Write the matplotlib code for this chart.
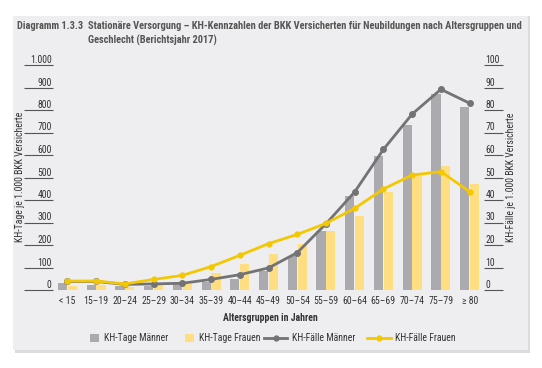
import numpy as np
import matplotlib
matplotlib.use('Agg')
import matplotlib.pyplot as plt
from matplotlib import font_manager
from matplotlib.patches import Patch, Rectangle
from matplotlib.lines import Line2D

# pick a narrow font if one is installed
names = {f.name for f in font_manager.fontManager.ttflist}
for cand in ['Roboto Condensed', 'Open Sans Condensed', 'Liberation Sans Narrow', 'Noto Sans Condensed']:
    if cand in names:
        plt.rcParams['font.family'] = [cand, 'DejaVu Sans']
        break
else:
    plt.rcParams['font.family'] = ['DejaVu Sans']
    plt.rcParams['font.stretch'] = 'condensed'

# data
age_groups = ['< 15', '15–19', '20–24', '25–29', '30–34', '35–39', '40–44', '45–49',
              '50–54', '55–59', '60–64', '65–69', '70–74', '75–79', '≥ 80']
tage_maenner = [30, 21, 18, 18, 30, 37, 50, 84, 152, 262, 418, 596, 732, 871, 812]
tage_frauen = [19, 21, 15, 21, 27, 74, 114, 160, 203, 262, 329, 436, 511, 551, 471]
faelle_maenner = [3.8, 3.8, 2.5, 2.7, 3.0, 4.7, 6.8, 9.8, 16.6, 29.4, 43.6, 62.5, 78.2, 89.2, 83.0]
faelle_frauen = [4.0, 4.0, 2.7, 4.7, 6.5, 10.4, 15.4, 20.6, 24.7, 29.6, 36.3, 44.9, 51.1, 52.6, 43.7]
left_ticks = [0, 100, 200, 300, 400, 500, 600, 700, 800, 900, 1000]
left_labels = ['0', '100', '200', '300', '400', '500', '600', '700', '800', '900', '1.000']
right_ticks = [0, 10, 20, 30, 40, 50, 60, 70, 80, 90, 100]

GRAY_BAR = '#ababaf'
YELLOW_BAR = '#fede80'
GRAY_LINE = '#737376'
YELLOW_LINE = '#f4c800'
PANEL = '#eeeef1'
TXT = '#333333'

W, H = 542, 368
fig = plt.figure(figsize=(W / 100, H / 100), dpi=100)
fig.patch.set_facecolor('white')

# panel with shadow
fig.patches.append(Rectangle((15 / W, 1 - 353 / H), 515 / W, 337 / H, transform=fig.transFigure,
                             facecolor='#dcdcdc', edgecolor='none', zorder=-10))
fig.patches.append(Rectangle((13 / W, 1 - 350 / H), 515 / W, 334 / H, transform=fig.transFigure,
                             facecolor=PANEL, edgecolor='none', zorder=-9))

# axes: x from 53 to 484 px, y from 65 to 290 px
ax = fig.add_axes([53 / W, 1 - 290 / H, (484 - 53) / W, (290 - 65) / H])
ax.set_facecolor('none')
ax2 = ax.twinx()

x = np.arange(len(age_groups))
bw = 0.32
ax.bar(x - bw / 2 - 0.01, tage_maenner, width=bw, color=GRAY_BAR, zorder=2)
ax.bar(x + bw / 2 + 0.01, tage_frauen, width=bw, color=YELLOW_BAR, zorder=2)

ax2.plot(x, faelle_maenner, color=GRAY_LINE, lw=2, marker='o', ms=4, clip_on=False, zorder=3)
ax2.plot(x, faelle_frauen, color=YELLOW_LINE, lw=2, marker='o', ms=3.5, clip_on=False, zorder=4)

ax.set_xlim(-0.5, len(age_groups) - 0.5)
ax.set_ylim(0, 1000)
ax2.set_ylim(0, 100)

ax.set_xticks(x)
ax.set_xticklabels(age_groups, fontsize=7, color=TXT)
ax.tick_params(axis='x', length=0, pad=4)

ax.set_yticks(left_ticks)
ax.set_yticklabels(left_labels, fontsize=7, color=TXT)
ax.tick_params(axis='y', length=21, width=0.8, color='#555555', pad=-20)
for lbl in ax.get_yticklabels():
    lbl.set_va('bottom')

ax2.set_yticks(right_ticks)
ax2.set_yticklabels([str(t) for t in right_ticks], fontsize=7, color=TXT)
ax2.tick_params(axis='y', length=14, width=0.8, color='#555555', pad=-13)
for lbl in ax2.get_yticklabels():
    lbl.set_va('bottom')

for a in (ax, ax2):
    for s in a.spines.values():
        s.set_visible(False)

fig.text(20 / W, 1 - 177 / H, 'KH-Tage je 1.000 BKK Versicherte', rotation=90,
         ha='center', va='center', fontsize=7, color=TXT)
fig.text(511 / W, 1 - 177 / H, 'KH-Fälle je 1.000 BKK Versicherte', rotation=90,
         ha='center', va='center', fontsize=7, color=TXT)
fig.text(270 / W, 1 - 318 / H, 'Altersgruppen in Jahren', ha='center', va='center',
         fontsize=7, color=TXT, fontweight='bold')

fig.text(17 / W, 1 - 26 / H, 'Diagramm 1.3.3', ha='left', va='center',
         fontsize=7.5, color='#555555', fontweight='bold')
fig.text(88 / W, 1 - 26 / H, 'Stationäre Versorgung – KH-Kennzahlen der BKK Versicherten für Neubildungen nach Altersgruppen und',
         ha='left', va='center', fontsize=7.5, color='#555555', fontweight='bold')
fig.text(88 / W, 1 - 40 / H, 'Geschlecht (Berichtsjahr 2017)',
         ha='left', va='center', fontsize=7.5, color='#555555', fontweight='bold')

# legend in two parts: square patches and line handles
bar_handles = [
    Patch(facecolor=GRAY_BAR, edgecolor='none', label='KH-Tage Männer'),
    Patch(facecolor=YELLOW_BAR, edgecolor='none', label='KH-Tage Frauen'),
]
line_handles = [
    Line2D([0], [0], color=GRAY_LINE, lw=2, marker='o', ms=3.5, label='KH-Fälle Männer'),
    Line2D([0], [0], color=YELLOW_LINE, lw=2, marker='o', ms=3.5, label='KH-Fälle Frauen'),
]
leg1 = fig.legend(handles=bar_handles, loc='center left', bbox_to_anchor=(90 / W, 1 - 338 / H),
                  ncol=2, frameon=False, fontsize=7, handlelength=0.9, handleheight=0.9,
                  columnspacing=1.8, handletextpad=0.5, borderpad=0, borderaxespad=0)
leg2 = fig.legend(handles=line_handles, loc='center left', bbox_to_anchor=(264 / W, 1 - 338 / H),
                  ncol=2, frameon=False, fontsize=7, handlelength=2.4,
                  columnspacing=1.2, handletextpad=0.5, borderpad=0, borderaxespad=0)
for leg in (leg1, leg2):
    for t in leg.get_texts():
        t.set_color(TXT)

fig.savefig('out.png', dpi=100)
